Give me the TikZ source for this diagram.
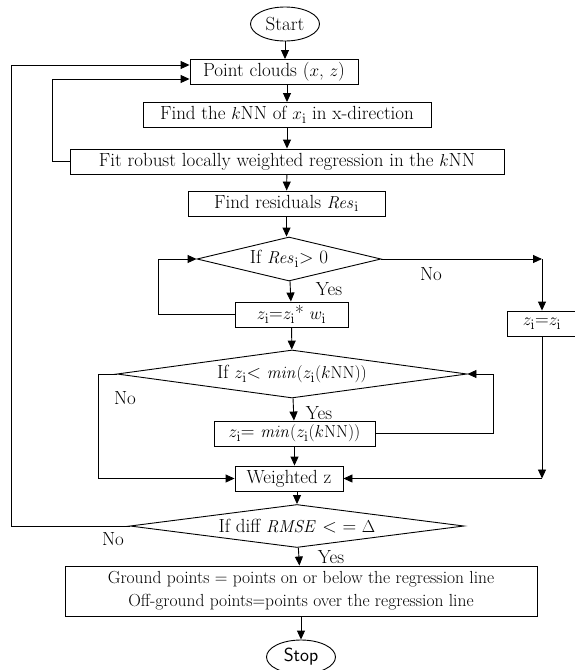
\documentclass[tikz,border=0pt]{standalone}
\usepackage{amsmath}
\usepackage{amssymb}
\usetikzlibrary{shapes.geometric,arrows.meta}

\begin{document}
\begin{tikzpicture}[
  x=1pt, y=-1pt, line width=0.9pt, >={Triangle[length=9pt,width=8pt]},
  roundnode/.style={ellipse, draw=black, line width=0.9pt, minimum width=69pt, minimum height=34pt, inner sep=0pt},
  squarednode/.style={rectangle, draw=black, line width=0.9pt, minimum height=25pt, inner sep=0pt},
  decisionnode/.style={diamond, draw=black, line width=0.9pt, aspect=6, inner sep=0pt},
  labelnode/.style={inner sep=0pt},
  every node/.style={font=\fontsize{19}{22}\selectfont},
  ]

\useasboundingbox (0,0) rectangle (574,670);

\node[roundnode] (start) at (285,24) {Start};
\node[squarednode, minimum width=168pt] (pc) at (274,72) {Point clouds ($x$, $z$)};
\node[squarednode, minimum width=288pt] (knn) at (287,115) {Find the $k$NN of $x_{\mathrm{i}}$ in x-direction};
\node[squarednode, minimum width=434pt] (fit) at (287,161.5) {Fit robust locally weighted regression in the $k$NN};
\node[squarednode, minimum width=197pt] (res) at (286.5,203.5) {Find residuals $\mathit{Res}_{\mathrm{i}}$};

\node[decisionnode, minimum width=184pt, minimum height=44pt] (d1) at (289,259) {If $\mathit{Res}_{\mathrm{i}}$> 0};
\node[squarednode, minimum width=113pt] (zw) at (291.5,314.5) {$z_{\mathrm{i}}$=$z_{\mathrm{i}}$* $w_{\mathrm{i}}$};
\node[squarednode, minimum width=70pt] (zz) at (542,323.5) {$z_{\mathrm{i}}$=$z_{\mathrm{i}}$};

\node[decisionnode, minimum width=350pt, minimum height=48pt] (d2) at (292,374) {If $z_{\mathrm{i}}$< $\mathit{min}(z_{\mathrm{i}}(k\mathrm{NN}))$};
\node[squarednode, minimum width=161pt] (zmin) at (294.5,433.5) {$z_{\mathrm{i}}$= $\mathit{min}(z_{\mathrm{i}}(k\mathrm{NN}))$};
\node[squarednode, minimum width=108pt] (wz) at (289,478.5) {Weighted z};

\node[decisionnode, minimum width=334pt, minimum height=43pt] (d3) at (297,526) {If diff $\mathit{RMSE}$ < = $\Delta$};
\node[squarednode, minimum width=472pt, minimum height=50pt, align=center, font=\fontsize{17.5}{23}\selectfont] (gp) at (301,591)
  {Ground points = points on or below the regression line\\Off-ground points=points over the regression line};
\node[roundnode] (stop) at (301,657) {\sffamily Stop};

% labels
\node[labelnode] (no1) at (431,274) {No};
\node[labelnode] (yes1) at (329,289) {Yes};
\node[labelnode] (no2) at (125,398) {No};
\node[labelnode] (yes2) at (319,413) {Yes};
\node[labelnode] (no3) at (113,539) {No};
\node[labelnode] (yes3) at (331,557) {Yes};

% main flow
\draw[->] (start) -- (start |- pc.north);
\draw[->] (pc.south -| knn) -- (knn);
\draw[->] (knn) -- (fit);
\draw[->] (fit) -- (res);
\draw[->] (res.south) -- (res.south |- d1.north);
\draw[->] (d1) -- (zw);
\draw[->] (zw) -- (d2);
\draw[->] (d2) -- (zmin);
\draw[->] (zmin.south) -- (zmin.south |- wz.north);
\draw[->] (d3.north |- wz.south) -- (d3.north);
\draw[->] (d3) -- (gp);
\draw[->] (gp) -- (stop);

% loops
\draw[->] (zw.west) -- ++(-76,0) |- (d1.west);
\draw[->] (d1.east) -- (d1.east -| zz);
\draw[->] (d1.east -| zz) -- (zz.north);
\draw[->] (zmin.east) -- ++(118,0) |- (d2.east);
\draw[->] (d2.west) -- ++(-18,0) |- (wz.west);
\draw[->] (zz.south) -- (zz.south |- wz.east);
\draw[->] (zz.south |- wz.east) -- (wz.east);
\draw[->] (fit.west) -- ++(-17,0) |- ([yshift=-7pt]pc.west);
\draw[->] (d3.west) -- ++(-118,0) |- ([yshift=7pt]pc.west);

\end{tikzpicture}
\end{document}
